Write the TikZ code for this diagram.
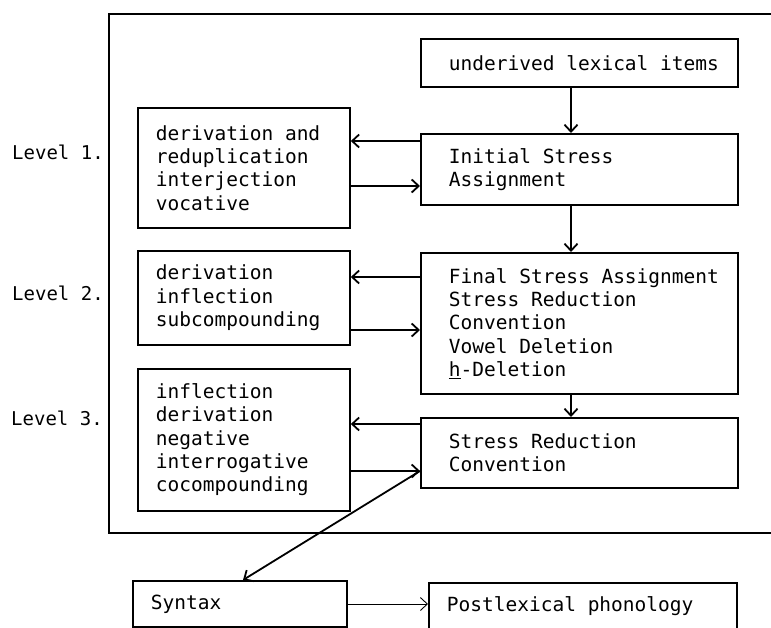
\documentclass[tikz,border=0pt]{standalone}
\usepackage{fontspec}
\setmonofont{DejaVu Sans Mono}
\usetikzlibrary{arrows.meta}
\newcommand\lexfont{\ttfamily\fontsize{19.5}{23.3}\selectfont}
\newcommand\lvlfont{\ttfamily\fontsize{19}{23.3}\selectfont}

\begin{document}
\begin{tikzpicture}
[->,>={Straight Barb[length=7pt,width=13pt]},x=1pt,y=-1pt,line width=1.8pt,
 box/.style={draw,rectangle,anchor=north west,align=left,inner ysep=0pt,inner xsep=4pt,font=\lexfont},
 rbox/.style={box,text width=309pt,execute at begin node={\leftskip 24pt\spaceskip 0.602em\relax}},
 lbox/.style={box,text width=204pt,execute at begin node={\leftskip 14pt\spaceskip 0.602em\relax}},
 lvl/.style={font=\lvlfont,execute at begin node={\spaceskip 0.602em\relax}}]
\clip (0,0) rectangle (771,627);
\draw[-,line width=2pt] (800,14) -- (109,14) -- (109,533) -- (800,533);
\coordinate (ax) at (571,0);

\node[rbox,minimum height=48pt] (lex) at (420,38) {underived lexical items};
\node[rbox,minimum height=71pt] (isa) at (420,133) {Initial Stress\\Assignment};
\node[rbox,minimum height=141pt] (fsa) at (420,252) {Final Stress Assignment\\Stress Reduction\\Convention\\Vowel Deletion\\\underline{h}-Deletion};
\node[rbox,minimum height=70pt] (src) at (420,417) {Stress Reduction\\Convention};

\node[lbox,minimum height=120pt] (d1) at (137,107) {derivation and\\reduplication\\interjection\\vocative};
\node[lbox,minimum height=94pt] (d2) at (137,250) {derivation\\inflection\\subcompounding};
\node[lbox,minimum height=142pt] (d3) at (137,368) {inflection\\derivation\\negative\\interrogative\\cocompounding};

\node[lvl] (l1) at (58,152) {Level 1.};
\node[lvl] (l2) at (58,293) {Level 2.};
\node[lvl] (l3) at (57,418) {Level 3.};

\node[lbox,text width=206pt,minimum height=46pt] (syn) at (132,580) {Syntax};
\node[rbox,text width=300pt,minimum height=46pt,execute at begin node={\leftskip 14pt\spaceskip 0.602em\relax}] (post) at (428,582) {Postlexical phonology};

\draw (lex.south -| ax) -- (isa.north -| ax);
\draw (isa.south -| ax) -- (fsa.north -| ax);
\draw (fsa.south -| ax) -- (src.north -| ax);

\draw (isa.west |- 0,141) -- (d1.east |- 0,141);
\draw (d1.east |- 0,186) -- (isa.west |- 0,186);
\draw (fsa.west |- 0,277) -- (d2.east |- 0,277);
\draw (d2.east |- 0,330) -- (fsa.west |- 0,330);
\draw (src.west |- 0,424) -- (d3.east |- 0,424);
\draw (d3.east |- 0,471) -- (src.west |- 0,471);

\draw (src.west |- 0,471) -- (syn.north -| 243,0);
\draw[line width=0.9pt] (syn.east |- 0,604) -- (post.west |- 0,604);
\end{tikzpicture}
\end{document}
